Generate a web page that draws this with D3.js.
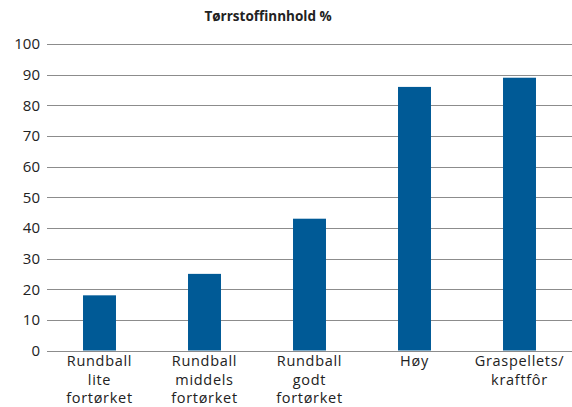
<!DOCTYPE html>
<html><head><meta charset="utf-8">
<script src="https://cdn.jsdelivr.net/npm/d3@7"></script>
<style>body{margin:0;background:#fff}svg{display:block}text{font-family:"Open Sans","Liberation Sans",sans-serif;fill:#222}</style>
</head><body>
<svg id="c" width="572" height="407"></svg>
<script>
const categories = [["Rundball","lite","fortørket"],["Rundball","middels","fortørket"],["Rundball","godt","fortørket"],["Høy"],["Graspellets/","kraftfôr"]];
const values = [18, 25, 43, 86, 89];
const yTicks = [0,10,20,30,40,50,60,70,80,90,100];
const title = "Tørrstoffinnhold %";

(function(){
const svg = d3.select("#c");
const mL = 47, mR = 572, mT = 44, mB = 350.5;
const x = d3.scaleBand().domain(d3.range(categories.length)).range([mL, mR]).paddingInner(0.686).paddingOuter(0.343);
const y = d3.scaleLinear().domain([0,100]).range([mB, mT]);

svg.append("text").attr("x", 268).attr("y", 21).attr("text-anchor","middle")
  .style("font-weight","bold").style("font-size","13.5px").text(title);

const yAxis = svg.append("g").attr("transform",`translate(${mL},0)`)
  .call(d3.axisLeft(y).tickValues(yTicks).tickSize(0).tickPadding(7));
yAxis.select(".domain").remove();
yAxis.selectAll("text").style("font-size","15px").style("fill","#222").style("font-family","'Open Sans','Liberation Sans',sans-serif");

svg.append("g").selectAll("line").data(yTicks).join("line")
  .attr("x1", mL).attr("x2", mR).attr("y1", d=>Math.round(y(d))+0.5).attr("y2", d=>Math.round(y(d))+0.5)
  .attr("stroke","#8c8c8c").attr("stroke-width",1);

svg.append("g").selectAll("rect").data(values).join("rect")
  .attr("x",(d,i)=>x(i)).attr("width",x.bandwidth())
  .attr("y",d=>y(d)).attr("height",d=>mB-y(d)).attr("fill","#005a96");

const lab = svg.append("g").selectAll("text").data(categories).join("text")
  .attr("x",(d,i)=>x(i)+x.bandwidth()/2).attr("y",366).attr("text-anchor","middle")
  .style("font-size","14.5px").style("letter-spacing","0.7px");
lab.selectAll("tspan").data(d=>d).join("tspan")
  .attr("x",function(){return this.parentNode.getAttribute("x");})
  .attr("dy",(d,i)=>i===0?0:18.5).text(d=>d);
})();
</script>
</body></html>
